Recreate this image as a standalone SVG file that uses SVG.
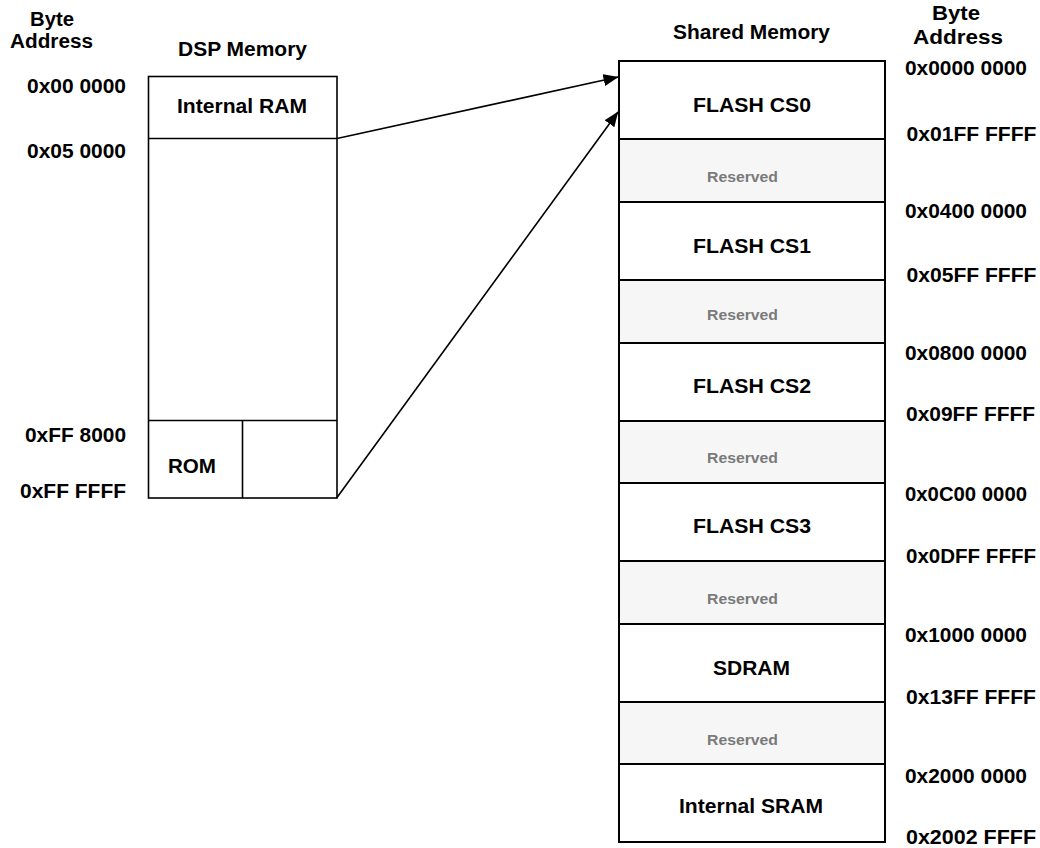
<svg xmlns="http://www.w3.org/2000/svg" width="1040" height="848" viewBox="0 0 1040 848">
<style>
  text { font-family: "Liberation Sans", Arial, Helvetica, sans-serif; font-weight: bold; fill: #000; }
  .lbl { font-size: 20px; }
  .addr { font-size: 20.5px; }
  .res { font-size: 15.5px; fill: #7a7a7a; }
  .mid { text-anchor: middle; }
  .end { text-anchor: end; }
  .box { fill: #fff; stroke: #000; stroke-width: 2; }
  .rbox { fill: #f6f6f6; stroke: #000; stroke-width: 2; }
  .lbox { fill: #fff; stroke: #000; stroke-width: 1.6; }
  .conn { fill: none; stroke: #000; stroke-width: 1.6; }
</style>
<defs>
  <marker id="arrow" markerUnits="userSpaceOnUse" markerWidth="15" markerHeight="12" viewBox="0 0 15 12" refX="14.5" refY="6" orient="auto">
    <path d="M0,0 L15,6 L0,12 z" fill="#000"/>
  </marker>
</defs>
<rect width="1040" height="848" fill="#fff"/>

<g id="headers">
  <text class="lbl mid" x="52" y="26" textLength="44" lengthAdjust="spacingAndGlyphs">Byte</text>
  <text class="lbl mid" x="51.5" y="47.5" textLength="83" lengthAdjust="spacingAndGlyphs">Address</text>
  <text class="lbl mid" x="242.5" y="55.5" textLength="129" lengthAdjust="spacingAndGlyphs">DSP Memory</text>
  <text class="lbl mid" x="751.5" y="38.5" textLength="157" lengthAdjust="spacingAndGlyphs">Shared Memory</text>
  <text class="lbl mid" x="956" y="20" textLength="48" lengthAdjust="spacingAndGlyphs">Byte</text>
  <text class="lbl mid" x="958" y="43.5" textLength="90" lengthAdjust="spacingAndGlyphs">Address</text>
</g>

<g id="dsp-addresses">
  <text class="addr end" x="126" y="93" textLength="99" lengthAdjust="spacingAndGlyphs">0x00 0000</text>
  <text class="addr end" x="126" y="157.5" textLength="99" lengthAdjust="spacingAndGlyphs">0x05 0000</text>
  <text class="addr end" x="126" y="441.5" textLength="101" lengthAdjust="spacingAndGlyphs">0xFF 8000</text>
  <text class="addr end" x="126" y="497.5" textLength="106" lengthAdjust="spacingAndGlyphs">0xFF FFFF</text>
</g>

<g id="dsp-memory">
  <rect class="lbox" x="148.5" y="76.5" width="188.5" height="421.5"/>
  <line class="lbox" x1="148.5" y1="138.5" x2="337" y2="138.5"/>
  <line class="lbox" x1="148.5" y1="420.5" x2="337" y2="420.5"/>
  <line class="lbox" x1="242.5" y1="420.5" x2="242.5" y2="498"/>
</g>
<g id="internal-ram">
  <text class="lbl mid" x="242" y="112.5" textLength="130" lengthAdjust="spacingAndGlyphs">Internal RAM</text>
</g>
<g id="rom">
  <text class="lbl mid" x="192" y="472.5" textLength="48" lengthAdjust="spacingAndGlyphs">ROM</text>
</g>

<g id="flash-cs0">
  <rect class="box" x="619" y="61" width="266" height="78"/>
  <text class="lbl mid" x="752" y="112" textLength="118" lengthAdjust="spacingAndGlyphs">FLASH CS0</text>
</g>
<g id="reserved-1">
  <rect class="rbox" x="619" y="139" width="266" height="63"/>
  <text class="res mid" x="742.5" y="181.5" textLength="71" lengthAdjust="spacingAndGlyphs">Reserved</text>
</g>
<g id="flash-cs1">
  <rect class="box" x="619" y="202" width="266" height="78"/>
  <text class="lbl mid" x="752" y="252.5" textLength="118" lengthAdjust="spacingAndGlyphs">FLASH CS1</text>
</g>
<g id="reserved-2">
  <rect class="rbox" x="619" y="280" width="266" height="63"/>
  <text class="res mid" x="742.5" y="319.5" textLength="71" lengthAdjust="spacingAndGlyphs">Reserved</text>
</g>
<g id="flash-cs2">
  <rect class="box" x="619" y="343" width="266" height="78"/>
  <text class="lbl mid" x="752" y="392.5" textLength="118" lengthAdjust="spacingAndGlyphs">FLASH CS2</text>
</g>
<g id="reserved-3">
  <rect class="rbox" x="619" y="421" width="266" height="62"/>
  <text class="res mid" x="742.5" y="462.5" textLength="71" lengthAdjust="spacingAndGlyphs">Reserved</text>
</g>
<g id="flash-cs3">
  <rect class="box" x="619" y="483" width="266" height="78"/>
  <text class="lbl mid" x="752" y="532.5" textLength="118" lengthAdjust="spacingAndGlyphs">FLASH CS3</text>
</g>
<g id="reserved-4">
  <rect class="rbox" x="619" y="561" width="266" height="63"/>
  <text class="res mid" x="742.5" y="603.5" textLength="71" lengthAdjust="spacingAndGlyphs">Reserved</text>
</g>
<g id="sdram">
  <rect class="box" x="619" y="624" width="266" height="78"/>
  <text class="lbl mid" x="751.5" y="674.5" textLength="77" lengthAdjust="spacingAndGlyphs">SDRAM</text>
</g>
<g id="reserved-5">
  <rect class="rbox" x="619" y="702" width="266" height="62"/>
  <text class="res mid" x="742.5" y="744.5" textLength="71" lengthAdjust="spacingAndGlyphs">Reserved</text>
</g>
<g id="internal-sram">
  <rect class="box" x="619" y="764" width="266" height="78"/>
  <text class="lbl mid" x="751" y="813" textLength="144" lengthAdjust="spacingAndGlyphs">Internal SRAM</text>
</g>

<g id="shared-addresses">
  <text class="addr" x="905" y="75" textLength="122" lengthAdjust="spacingAndGlyphs">0x0000 0000</text>
  <text class="addr" x="906.5" y="141" textLength="130" lengthAdjust="spacingAndGlyphs">0x01FF FFFF</text>
  <text class="addr" x="905" y="218" textLength="122" lengthAdjust="spacingAndGlyphs">0x0400 0000</text>
  <text class="addr" x="906.5" y="281.5" textLength="130" lengthAdjust="spacingAndGlyphs">0x05FF FFFF</text>
  <text class="addr" x="905" y="359.5" textLength="122" lengthAdjust="spacingAndGlyphs">0x0800 0000</text>
  <text class="addr" x="906" y="420.5" textLength="129" lengthAdjust="spacingAndGlyphs">0x09FF FFFF</text>
  <text class="addr" x="905" y="500.5" textLength="122" lengthAdjust="spacingAndGlyphs">0x0C00 0000</text>
  <text class="addr" x="906" y="563" textLength="130" lengthAdjust="spacingAndGlyphs">0x0DFF FFFF</text>
  <text class="addr" x="905" y="642" textLength="122" lengthAdjust="spacingAndGlyphs">0x1000 0000</text>
  <text class="addr" x="906" y="703.5" textLength="130" lengthAdjust="spacingAndGlyphs">0x13FF FFFF</text>
  <text class="addr" x="905" y="782.5" textLength="122" lengthAdjust="spacingAndGlyphs">0x2000 0000</text>
  <text class="addr" x="906" y="843.5" textLength="130" lengthAdjust="spacingAndGlyphs">0x2002 FFFF</text>
</g>

<g id="connectors">
  <line class="conn" x1="337" y1="138.5" x2="618" y2="77" marker-end="url(#arrow)"/>
  <line class="conn" x1="337" y1="497.5" x2="618" y2="112" marker-end="url(#arrow)"/>
</g>
</svg>
